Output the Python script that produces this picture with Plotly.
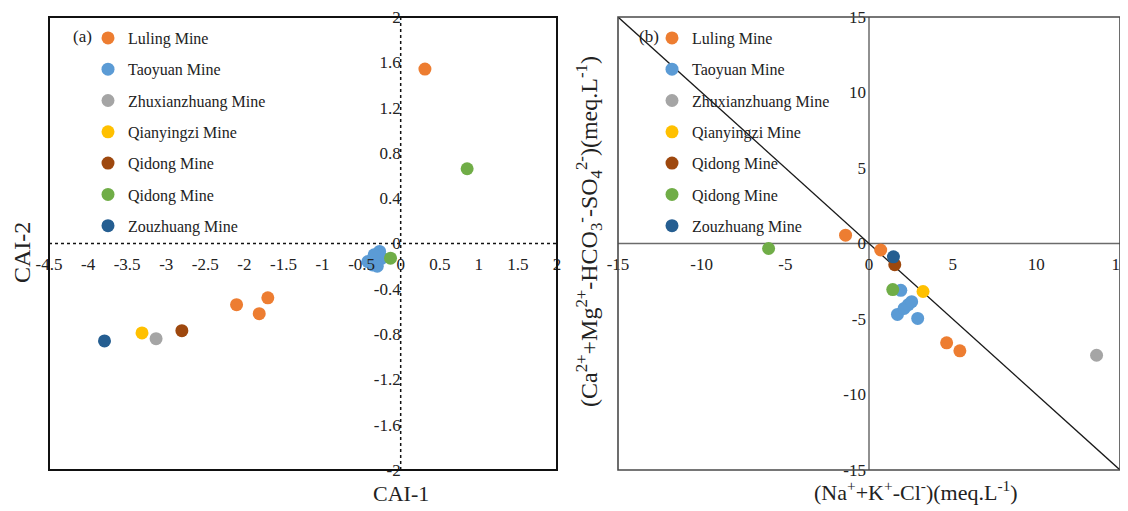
import plotly.graph_objects as go

# ---------------- data ----------------
mines = ["Luling Mine", "Taoyuan Mine", "Zhuxianzhuang Mine", "Qianyingzi Mine",
         "Qidong Mine", "Qidong Mine", "Zouzhuang Mine"]
colors = ["#ED7D31", "#5B9BD5", "#A5A5A5", "#FFC000", "#9E480E", "#70AD47", "#255E91"]

# Panel (a): CAI-1 vs CAI-2
luling_a_x = [0.31, -2.10, -1.70, -1.81]
luling_a_y = [1.54, -0.54, -0.48, -0.62]
taoyuan_a_x = [-0.42, -0.36, -0.31, -0.27, -0.24, -0.30, -0.34]
taoyuan_a_y = [-0.16, -0.19, -0.12, -0.07, -0.13, -0.20, -0.10]
zhux_a_x = [-3.13]
zhux_a_y = [-0.84]
qian_a_x = [-3.31]
qian_a_y = [-0.79]
qidong1_a_x = [-2.80]
qidong1_a_y = [-0.77]
qidong2_a_x = [0.85, -0.13]
qidong2_a_y = [0.66, -0.13]
zouz_a_x = [-3.79]
zouz_a_y = [-0.86]

# Panel (b): (Na+K-Cl) vs (Ca+Mg-HCO3-SO4)
luling_b_x = [-1.4, 0.7, 4.64, 5.43]
luling_b_y = [0.55, -0.43, -6.58, -7.11]
taoyuan_b_x = [1.9, 1.7, 2.1, 2.35, 2.55, 2.91]
taoyuan_b_y = [-3.1, -4.7, -4.3, -4.05, -3.85, -4.96]
zhux_b_x = [13.6]
zhux_b_y = [-7.4]
qian_b_x = [3.23]
qian_b_y = [-3.18]
qidong1_b_x = [1.54]
qidong1_b_y = [-1.4]
qidong2_b_x = [-6.0, 1.42]
qidong2_b_y = [-0.33, -3.05]
zouz_b_x = [1.46]
zouz_b_y = [-0.88]

# 1:1 reference line in panel (b)
ref_line_x = [-15, 15]
ref_line_y = [15, -15]

# tick labels
a_xticks = [-4.5, -4, -3.5, -3, -2.5, -2, -1.5, -1, -0.5, 0, 0.5, 1, 1.5, 2]
a_xticktext = ["-4.5", "-4", "-3.5", "-3", "-2.5", "-2", "-1.5", "-1", "-0.5", "0", "0.5", "1", "1.5", "2"]
a_yticks = [2, 1.6, 1.2, 0.8, 0.4, 0, -0.4, -0.8, -1.2, -1.6, -2]
a_yticktext = ["2", "1.6", "1.2", "0.8", "0.4", "0", "-0.4", "-0.8", "-1.2", "-1.6", "-2"]
b_ticks = [-15, -10, -5, 0, 5, 10, 15]
b_ticktext = ["-15", "-10", "-5", "0", "5", "10", "15"]

panel_a = [(luling_a_x, luling_a_y), (taoyuan_a_x, taoyuan_a_y), (zhux_a_x, zhux_a_y),
           (qian_a_x, qian_a_y), (qidong1_a_x, qidong1_a_y), (qidong2_a_x, qidong2_a_y),
           (zouz_a_x, zouz_a_y)]
panel_b = [(luling_b_x, luling_b_y), (taoyuan_b_x, taoyuan_b_y), (zhux_b_x, zhux_b_y),
           (qian_b_x, qian_b_y), (qidong1_b_x, qidong1_b_y), (qidong2_b_x, qidong2_b_y),
           (zouz_b_x, zouz_b_y)]

# ---------------- layout geometry ----------------
# The page body has an 8 px margin, so the figure is drawn 8 px smaller and
# positions (given in window pixels) are converted to paper fractions.
OFF = 8
W, H = 1128 - OFF, 511 - OFF


def px(x):
    return (x - OFF) / W


def py(y):
    return 1 - (y - OFF) / H


FONT = "Liberation Serif"
TXT = "#222222"
ax_dom = [px(49), px(557)]
bx_dom = [px(618), px(1120)]
y_dom = [py(470), py(17)]
y_mid = (y_dom[0] + y_dom[1]) / 2
a_yaxis_pos = ax_dom[0] + (4.5 / 6.5) * (ax_dom[1] - ax_dom[0])
b_yaxis_pos = (bx_dom[0] + bx_dom[1]) / 2

fig = go.Figure()

fig.add_trace(go.Scatter(x=ref_line_x, y=ref_line_y, mode="lines",
                         line=dict(color="#1a1a1a", width=1.3),
                         xaxis="x2", yaxis="y2", showlegend=False, hoverinfo="skip"))

for i, (name, col) in enumerate(zip(mines, colors)):
    xa, ya = panel_a[i]
    fig.add_trace(go.Scatter(x=xa, y=ya, mode="markers", name=name,
                             marker=dict(color=col, size=13),
                             xaxis="x", yaxis="y", legend="legend",
                             legendgroup=f"a{i}"))
for i, (name, col) in enumerate(zip(mines, colors)):
    xb, yb = panel_b[i]
    fig.add_trace(go.Scatter(x=xb, y=yb, mode="markers", name=name,
                             marker=dict(color=col, size=13),
                             xaxis="x2", yaxis="y2", legend="legend2",
                             legendgroup=f"b{i}"))

tickfont = dict(family=FONT, size=17, color=TXT)
common_axis = dict(showgrid=False, zeroline=False, showline=False, ticks="",
                   tickfont=tickfont, anchor="free", fixedrange=True, automargin=False,
                   ticklabeloverflow="allow")
legend_font = dict(family=FONT, size=16, color=TXT)

fig.update_layout(
    width=W, height=H,
    margin=dict(l=0, r=0, t=0, b=0, autoexpand=False),
    paper_bgcolor="white", plot_bgcolor="white",
    font=dict(family=FONT, color=TXT),
    xaxis=dict(domain=ax_dom, range=[-4.5, 2], tickvals=a_xticks, ticktext=a_xticktext,
               position=y_mid, ticklabelstandoff=8, **common_axis),
    yaxis=dict(domain=y_dom, range=[-2, 2], tickvals=a_yticks, ticktext=a_yticktext,
               position=a_yaxis_pos, ticklabelstandoff=0, **common_axis),
    xaxis2=dict(domain=bx_dom, range=[-15, 15], tickvals=b_ticks, ticktext=b_ticktext,
                position=y_mid, ticklabelstandoff=8, **common_axis),
    yaxis2=dict(domain=y_dom, range=[-15, 15], tickvals=b_ticks, ticktext=b_ticktext,
                position=b_yaxis_pos, ticklabelstandoff=3, **common_axis),
    legend=dict(x=px(88), y=py(21), xanchor="left", yanchor="top",
                bgcolor="rgba(0,0,0,0)", font=legend_font,
                tracegroupgap=7.5, itemwidth=30),
    legend2=dict(x=px(652), y=py(21), xanchor="left", yanchor="top",
                 bgcolor="rgba(0,0,0,0)", font=legend_font,
                 tracegroupgap=7.5, itemwidth=30),
    showlegend=True,
)

shapes = [
    # panel (a) dotted zero lines
    dict(type="line", xref="x", yref="y domain", x0=0, x1=0, y0=0, y1=1,
         line=dict(color="#111111", width=1.5, dash="dot"), layer="below"),
    dict(type="line", xref="x domain", yref="y", x0=0, x1=1, y0=0, y1=0,
         line=dict(color="#111111", width=1.5, dash="dot"), layer="below"),
    # panel (a) frame
    dict(type="rect", xref="x domain", yref="y domain", x0=0, x1=1, y0=0, y1=1,
         line=dict(color="#111111", width=2)),
    # panel (b) zero lines
    dict(type="line", xref="x2", yref="y2 domain", x0=0, x1=0, y0=0, y1=1,
         line=dict(color="#6b6b6b", width=1.5), layer="below"),
    dict(type="line", xref="x2 domain", yref="y2", x0=0, x1=1, y0=0, y1=0,
         line=dict(color="#6b6b6b", width=1.5), layer="below"),
    # panel (b) frame
    dict(type="rect", xref="x2 domain", yref="y2 domain", x0=0, x1=1, y0=0, y1=1,
         line=dict(color="#4a4a4a", width=1.6)),
]
fig.update_layout(shapes=shapes)


def note(text, x, y, size, angle=0):
    return dict(text=text, xref="paper", yref="paper", x=px(x), y=py(y),
                xanchor="center", yanchor="middle", showarrow=False,
                textangle=angle, font=dict(family=FONT, size=size, color=TXT))


annotations = [
    note("(a)", 82, 37, 17),
    note("(b)", 649, 37, 17),
    note("CAI-1", 401, 493, 22),
    note("CAI-2", 22, 253, 24, -90),
    note("(Na<sup>+</sup>+K<sup>+</sup>-Cl<sup>-</sup>)(meq.L<sup>-1</sup>)", 916, 491, 22),
    note("(Ca<sup>2+</sup>+Mg<sup>2+</sup>-HCO<sub>3</sub><sup>-</sup>-SO<sub>4</sub><sup>2-</sup>)(meq.L<sup>-1</sup>)",
         589, 232, 24, -90),
]
fig.update_layout(annotations=annotations)

fig.write_html("out.html")
